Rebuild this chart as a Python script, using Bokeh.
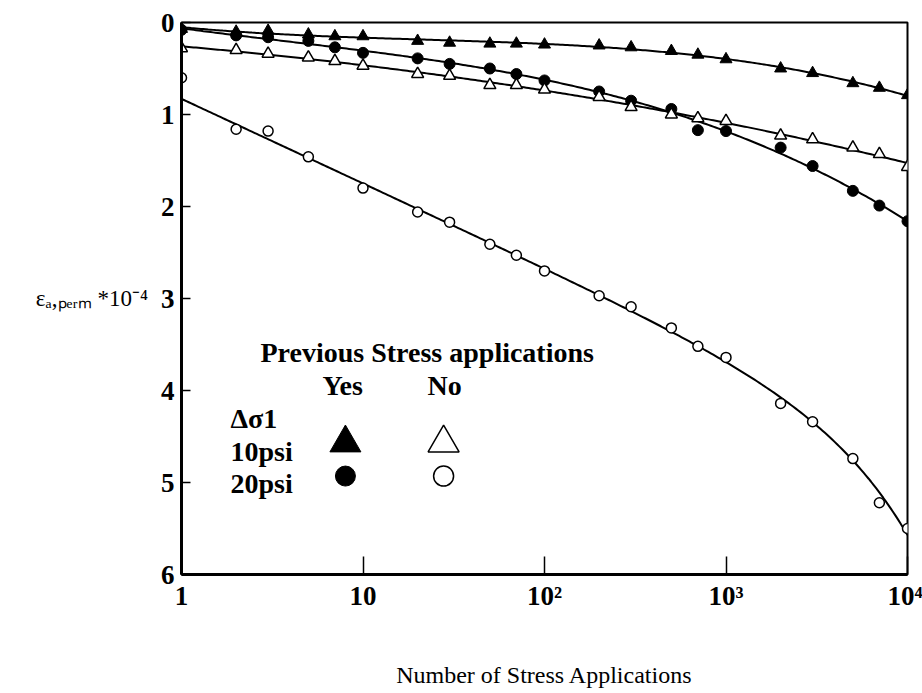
import numpy as np
from bokeh.plotting import figure
from bokeh.models import Range1d, FixedTicker, Label
from bokeh.embed import file_html
from bokeh.resources import INLINE

# Number of stress applications at which the permanent axial strain was read
n_yes_10 = [1, 2, 3, 5, 7, 10, 20, 30, 50, 70, 100, 200, 300, 500, 700, 1000, 2000, 3000, 5000, 7000, 10000]
n_yes_20 = [1, 2, 3, 5, 7, 10, 20, 30, 50, 70, 100, 200, 300, 500, 700, 1000, 2000, 3000, 5000, 7000, 10000]
n_no_10 = [1, 2, 3, 5, 7, 10, 20, 30, 50, 70, 100, 200, 300, 500, 700, 1000, 2000, 3000, 5000, 7000, 10000]
n_no_20 = [1, 2, 3, 5, 10, 20, 30, 50, 70, 100, 200, 300, 500, 700, 1000, 2000, 3000, 5000, 7000, 10000]

# Permanent axial strain (x 10^-4)
eps_yes_10 = [0.07, 0.10, 0.09, 0.13, 0.15, 0.15, 0.20, 0.22, 0.23, 0.23, 0.24, 0.25, 0.27, 0.31, 0.35,
              0.40, 0.50, 0.55, 0.66, 0.71, 0.79]
eps_yes_20 = [0.08, 0.14, 0.16, 0.20, 0.27, 0.33, 0.39, 0.45, 0.50, 0.56, 0.63, 0.75, 0.85, 0.94, 1.17,
              1.18, 1.36, 1.56, 1.83, 1.99, 2.16]
eps_no_10 = [0.28, 0.30, 0.34, 0.38, 0.42, 0.47, 0.56, 0.58, 0.68, 0.68, 0.73, 0.81, 0.92, 1.00, 1.04,
             1.07, 1.23, 1.27, 1.36, 1.43, 1.57]
eps_no_20 = [0.60, 1.16, 1.18, 1.46, 1.80, 2.06, 2.17, 2.41, 2.53, 2.70, 2.97, 3.09, 3.32, 3.52, 3.64,
             4.14, 4.34, 4.74, 5.22, 5.50]

x_ticks = [1, 10, 100, 1000, 10000]
x_tick_labels = ["1", "10", "10\u00b2", "10\u00b3", "10\u2074"]
y_ticks = [0, 1, 2, 3, 4, 5, 6]

x_title = "Number of Stress Applications"
y_title = "\u03b5\u2090,\u209a\u2091\u1d63\u2098 *10\u207b\u2074"

SERIF = "Liberation Serif"
CURVE_N = np.logspace(0, 4, 300)


def cubic_trend(n, eps):
    """Cubic fit of strain against log10(N)."""
    coeffs = np.polyfit(np.log10(n), eps, 3)
    return CURVE_N, np.polyval(coeffs, np.log10(CURVE_N))


def log_linear_trend(n, eps):
    """Least-squares fit of strain = a + b*log10(N) + c*N."""
    n = np.asarray(n, dtype=float)
    basis = np.column_stack([np.ones_like(n), np.log10(n), n])
    a, b, c = np.linalg.lstsq(basis, np.asarray(eps, dtype=float), rcond=None)[0]
    return CURVE_N, a + b * np.log10(CURVE_N) + c * CURVE_N


p = figure(width=922, height=693, x_axis_type="log",
           x_range=Range1d(1, 10000), y_range=Range1d(6, 0),
           output_backend="svg", toolbar_location=None,
           min_border_left=181, min_border_right=15,
           min_border_top=22, min_border_bottom=119)

p.background_fill_color = "white"
p.border_fill_color = "white"
p.grid.visible = False
p.outline_line_color = "black"
p.outline_line_width = 2
p.outline_line_alpha = 1.0

for ax in (p.xaxis[0], p.yaxis[0]):
    ax.axis_line_width = 3
    ax.axis_line_color = "black"
    ax.major_tick_line_color = "black"
    ax.major_tick_line_width = 1.5
    ax.major_tick_out = 0
    ax.minor_tick_line_color = None
    ax.major_label_text_font = SERIF
    ax.major_label_text_font_style = "bold"
    ax.major_label_text_font_size = "27px"
    ax.major_label_text_color = "black"
    ax.axis_label_text_font = SERIF
    ax.axis_label_text_font_style = "normal"
    ax.axis_label_text_color = "black"

p.xaxis.ticker = FixedTicker(ticks=x_ticks)
p.xaxis.major_label_overrides = {t: s for t, s in zip(x_ticks, x_tick_labels)}
p.xaxis.major_tick_in = 18
p.xaxis.major_label_standoff = 6
p.xaxis.axis_label = x_title
p.xaxis.axis_label_text_font_size = "24px"
p.xaxis.axis_label_standoff = 48

p.yaxis.ticker = FixedTicker(ticks=y_ticks)
p.yaxis.major_tick_in = 9
p.yaxis.major_label_standoff = 7
p.yaxis.axis_label = y_title
p.yaxis.axis_label_orientation = "horizontal"
p.yaxis.axis_label_text_font_size = "23px"
p.yaxis.axis_label_standoff = 10

# Fitted curves (the first 20 psi / no-history reading lies off its trend)
curves = [cubic_trend(n_yes_10, eps_yes_10),
          cubic_trend(n_yes_20, eps_yes_20),
          cubic_trend(n_no_10, eps_no_10),
          log_linear_trend(n_no_20[1:], eps_no_20[1:])]
for xs, ys in curves:
    p.line(xs, ys, line_color="black", line_width=2)

# Measured points
p.scatter(n_yes_10, eps_yes_10, marker="triangle", size=12, fill_color="black", line_color="black")
p.scatter(n_yes_20, eps_yes_20, marker="circle", size=11, fill_color="black", line_color="black")
p.scatter(n_no_10, eps_no_10, marker="triangle", size=12, fill_color="white", line_color="black", line_width=1.5)
p.scatter(n_no_20, eps_no_20, marker="circle", size=10, fill_color="white", line_color="black", line_width=1.5)

# Key inside the plot area
legend_x = [8.0, 27.8]      # "Yes" and "No" columns
legend_y = [4.57, 4.93]     # 10 psi and 20 psi rows
p.scatter([legend_x[0]], [legend_y[0]], marker="triangle", size=31, fill_color="black", line_color="black")
p.scatter([legend_x[1]], [legend_y[0]], marker="triangle", size=31, fill_color="white", line_color="black", line_width=1.5)
p.scatter([legend_x[0]], [legend_y[1]], marker="circle", size=20, fill_color="black", line_color="black")
p.scatter([legend_x[1]], [legend_y[1]], marker="circle", size=20, fill_color="white", line_color="black", line_width=1.5)


def add_text(text, x, y, size, style="bold", align="left"):
    p.add_layout(Label(x=x, y=y, x_units="screen", y_units="screen", text=text,
                       text_font=SERIF, text_font_size=size, text_font_style=style,
                       text_color="black", text_align=align, text_baseline="alphabetic"))


add_text("Previous Stress applications", 79, 222, "28px")
add_text("Yes", 141, 189, "28px")
add_text("No", 246, 189, "28px")
add_text("\u0394\u03c31", 49, 156, "28px")
add_text("10psi", 49, 123, "28px")
add_text("20psi", 49, 91, "28px")

open("out.html", "w").write(file_html(p, INLINE))
